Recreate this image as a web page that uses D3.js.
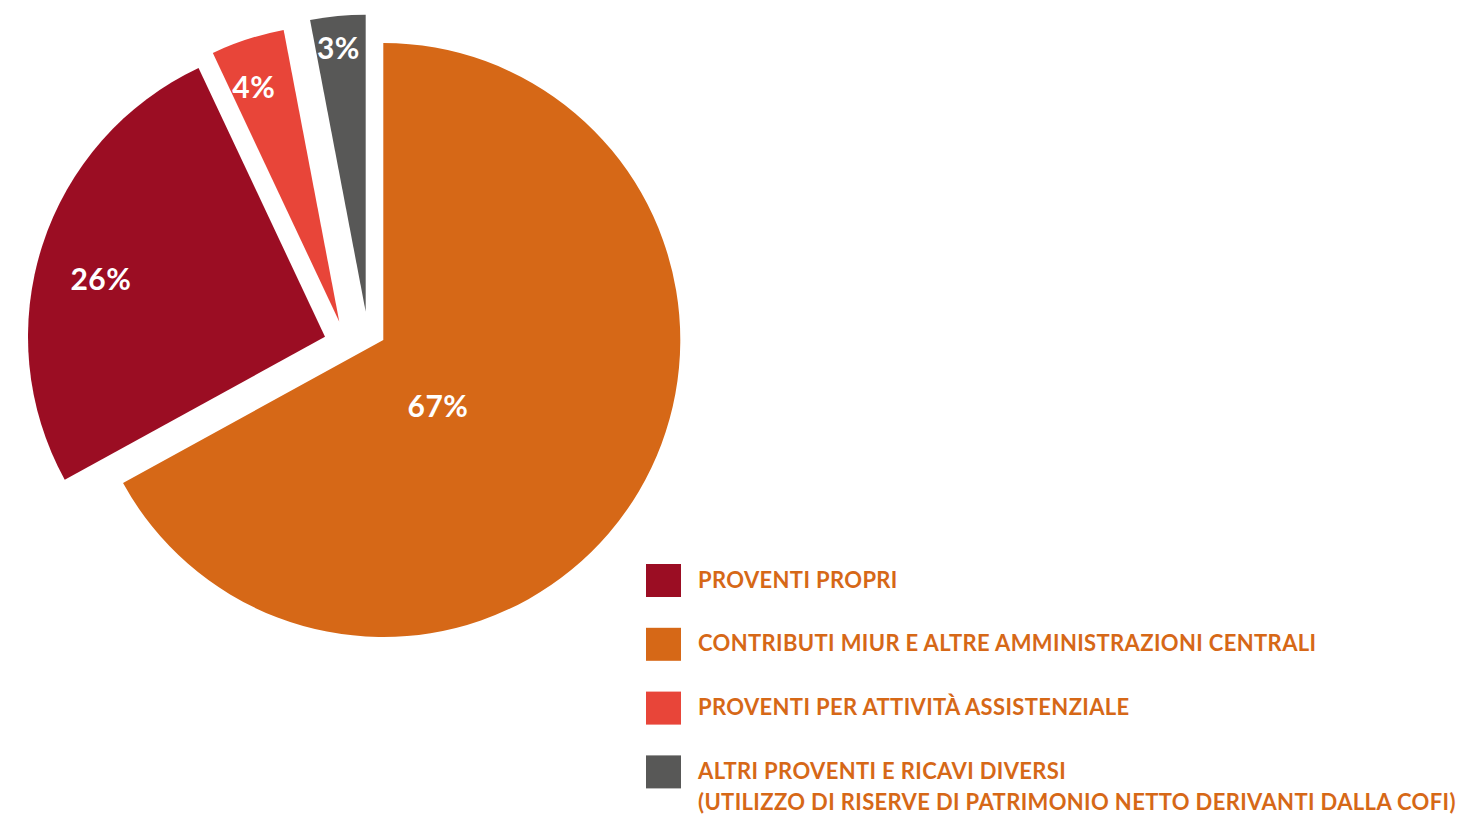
<!DOCTYPE html>
<html>
<head>
<meta charset="utf-8">
<script src="https://cdn.jsdelivr.net/npm/d3@7"></script>
<style>
  html, body { margin: 0; padding: 0; background: #ffffff; }
  svg { display: block; }
</style>
</head>
<body>
<svg id="chart" width="1462" height="816"></svg>
<script>
// ---- data ----
const categories = [
  "PROVENTI PROPRI",
  "CONTRIBUTI MIUR E ALTRE AMMINISTRAZIONI CENTRALI",
  "PROVENTI PER ATTIVITÀ ASSISTENZIALE",
  "ALTRI PROVENTI E RICAVI DIVERSI (UTILIZZO DI RISERVE DI PATRIMONIO NETTO DERIVANTI DALLA COFI)"
];
const legendLines = [
  ["PROVENTI PROPRI"],
  ["CONTRIBUTI MIUR E ALTRE AMMINISTRAZIONI CENTRALI"],
  ["PROVENTI PER ATTIVITÀ ASSISTENZIALE"],
  ["ALTRI PROVENTI E RICAVI DIVERSI", "(UTILIZZO DI RISERVE DI PATRIMONIO NETTO DERIVANTI DALLA COFI)"]
];
const values = [26, 67, 4, 3];
const percentLabels = ["26%", "67%", "4%", "3%"];
const pieOrder = [1, 0, 2, 3]; // clockwise from 12 o'clock

// ---- style ----
const colors = ["#9B0D23", "#D66817", "#E84539", "#585857"];
const textColor = "#D66817";
const center = { x: 383.3, y: 340 };
const radius = 297;
// per-slice explosion offsets (px) from the pie centre
const explode = [ [-58.3, -3.3], [0, 0], [-44, -18.3], [-17.6, -28.3] ];
// label placement: fraction of radius and angle shift (deg) from mid-angle
const labelPlace = [ [0.779, -3.6], [0.29, 20], [0.841, -2], [0.893, -0.5] ];

const svg = d3.select("#chart");

const pie = d3.pie().sort(null).value(d => d.value);
const ordered = pieOrder.map(i => ({ i, value: values[i] }));
const arcs = pie(ordered);
const arc = d3.arc().innerRadius(0).outerRadius(radius);

const g = svg.append("g").attr("transform", `translate(${center.x},${center.y})`);

const slices = g.selectAll("g.slice").data(arcs).join("g")
  .attr("class", "slice")
  .attr("transform", d => `translate(${explode[d.data.i][0]},${explode[d.data.i][1]})`);

slices.append("path")
  .attr("d", arc)
  .attr("fill", d => colors[d.data.i]);

slices.append("text")
  .attr("transform", d => {
    const [f, da] = labelPlace[d.data.i];
    const a = (d.startAngle + d.endAngle) / 2 + da * Math.PI / 180;
    const r = f * radius;
    return `translate(${r * Math.sin(a)},${-r * Math.cos(a)})`;
  })
  .attr("text-anchor", "middle")
  .attr("dy", "0.36em")
  .attr("fill", "#ffffff")
  .style("font-family", "Lato, 'Open Sans', sans-serif")
  .style("font-weight", "700")
  .style("font-size", "30px")
  .style("letter-spacing", "0.5px")
  .text(d => percentLabels[d.data.i]);

// ---- legend ----
const legend = svg.append("g").attr("transform", "translate(646,564)");
const item = legend.selectAll("g.item").data(categories).join("g")
  .attr("class", "item")
  .attr("transform", (d, i) => `translate(0,${i * 63.8})`);

item.append("rect")
  .attr("width", 35).attr("height", 33)
  .attr("fill", (d, i) => colors[i]);

item.each(function(d, i) {
  const t = d3.select(this).append("text")
    .attr("x", 52)
    .attr("y", 23.7)
    .attr("fill", textColor)
    .style("font-family", "Lato, 'Open Sans', sans-serif")
    .style("font-weight", "700")
    .style("font-size", "22px")
    .style("letter-spacing", "0.36px");
  legendLines[i].forEach((line, k) => {
    t.append("tspan").attr("x", 52).attr("dy", k === 0 ? 0 : 31).text(line);
  });
});
</script>
</body>
</html>
